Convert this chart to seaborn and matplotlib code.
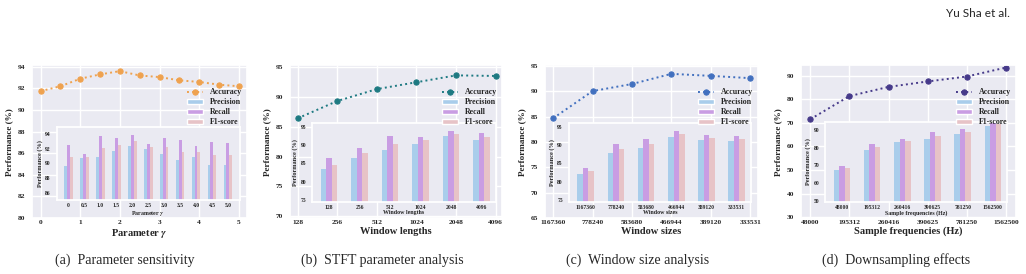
import matplotlib
matplotlib.use("Agg")
import matplotlib.pyplot as plt
from matplotlib.patches import Patch
import pandas as pd
import seaborn as sns

# (a) parameter sensitivity
gamma = [0, 0.5, 1.0, 1.5, 2.0, 2.5, 3.0, 3.5, 4.0, 4.5, 5.0]
gamma_labels = ["0", "0.5", "1.0", "1.5", "2.0", "2.5", "3.0", "3.5", "4.0", "4.5", "5.0"]
acc_a = [91.75, 92.2, 92.9, 93.3, 93.6, 93.2, 93.05, 92.75, 92.6, 92.35, 92.2]
prec_a = [89.6, 90.7, 90.9, 91.75, 92.4, 91.9, 91.3, 90.5, 90.85, 89.8, 89.8]
rec_a = [92.5, 91.25, 93.7, 93.4, 93.9, 92.6, 93.4, 93.15, 92.3, 92.95, 92.8]
f1_a = [90.8, 90.9, 92.1, 92.5, 93.1, 92.25, 92.25, 91.6, 91.6, 91.15, 91.1]

# (b) STFT window lengths
win_len = ["128", "256", "512", "1024", "2048", "4096"]
acc_b = [86.4, 89.3, 91.3, 92.45, 93.6, 93.5]
prec_b = [83.4, 86.5, 88.6, 90.2, 92.3, 91.4]
rec_b = [86.5, 89.3, 92.3, 92.2, 93.8, 93.2]
f1_b = [84.5, 87.7, 90.2, 91.25, 93.0, 92.1]

# (c) window sizes
win_size = ["1167360", "778240", "583680", "466944", "389120", "333531"]
acc_c = [84.65, 90.0, 91.4, 93.4, 93.0, 92.55]
prec_c = [82.05, 87.9, 89.1, 92.2, 91.3, 91.0]
rec_c = [83.75, 90.2, 91.7, 93.75, 92.75, 92.5]
f1_c = [82.85, 88.85, 90.3, 92.85, 91.95, 91.6]

# (d) sample frequencies
freqs = ["48000", "195312", "260416", "390625", "781250", "1562500"]
acc_d = [71.6, 81.4, 85.3, 87.6, 89.7, 93.5]
prec_d = [67.4, 78.7, 83.2, 85.1, 87.7, 92.5]
rec_d = [69.8, 82.3, 84.7, 88.9, 90.6, 94.2]
f1_d = [68.3, 80.4, 84.0, 86.6, 88.9, 93.4]

metrics = ["Precision", "Recall", "F1-score"]
bar_colors = ["#a9cdeb", "#c99de3", "#e7c3c7"]

sns.set_theme(style="darkgrid")
plt.rcParams["font.family"] = ["Liberation Serif", "DejaVu Serif"]
plt.rcParams["font.weight"] = "bold"
plt.rcParams["axes.labelweight"] = "bold"
plt.rcParams["mathtext.fontset"] = "stix"

fig = plt.figure(figsize=(10.26, 2.74), dpi=100)

panels = [
    dict(x=gamma, ticks=[0, 1, 2, 3, 4, 5], ticklabels=["0", "1", "2", "3", "4", "5"],
         cats=gamma_labels, acc=acc_a, bars=[prec_a, rec_a, f1_a],
         color="#efa24f", xlabel="Parameter $\\gamma$",
         rect=[0.031, 0.204, 0.2096, 0.558], xlim=(-0.22, 5.2), ylim=(80, 94.15),
         yticks=range(80, 95, 2), inset=[0.116, 0.118, 0.85, 0.48],
         in_xlim=(-0.73, 10.73), in_ylim=(85, 95), in_yticks=range(86, 95, 2),
         caption="(a)  Parameter sensitivity", cap_x=125),
    dict(x=list(range(6)), ticks=list(range(6)), ticklabels=win_len,
         cats=win_len, acc=acc_b, bars=[prec_b, rec_b, f1_b],
         color="#1e7a82", xlabel="Window lengths",
         rect=[0.2827, 0.204, 0.2063, 0.558], xlim=(-0.19, 5.15), ylim=(69.7, 95.3),
         yticks=range(70, 96, 5), inset=[0.105, 0.107, 0.866, 0.516],
         in_xlim=(-0.55, 5.46), in_ylim=(74.6, 96), in_yticks=range(75, 96, 5),
         caption="(b)  STFT parameter analysis", cap_x=382),
    dict(x=list(range(6)), ticks=list(range(6)), ticklabels=win_size,
         cats=win_size, acc=acc_c, bars=[prec_c, rec_c, f1_c],
         color="#4270bf", xlabel="Window sizes",
         rect=[0.531, 0.204, 0.2076, 0.558], xlim=(-0.21, 5.19), ylim=(65, 95.1),
         yticks=range(65, 96, 5), inset=[0.114, 0.107, 0.852, 0.516],
         in_xlim=(-0.55, 5.46), in_ylim=(74.6, 96), in_yticks=range(75, 96, 5),
         caption="(c)  Window size analysis", cap_x=638),
    dict(x=list(range(6)), ticks=list(range(6)), ticklabels=freqs,
         cats=freqs, acc=acc_d, bars=[prec_d, rec_d, f1_d],
         color="#463a8a", xlabel="Sample frequencies (Hz)",
         rect=[0.7807, 0.204, 0.2096, 0.558], xlim=(-0.24, 5.26), ylim=(29.6, 94.5),
         yticks=range(30, 91, 10), inset=[0.113, 0.107, 0.844, 0.523],
         in_xlim=(-0.55, 5.46), in_ylim=(49.5, 94.7), in_yticks=range(50, 91, 10),
         caption="(d)  Downsampling effects", cap_x=896),
]

for p in panels:
    ax = fig.add_axes(p["rect"])
    sns.lineplot(x=p["x"], y=p["acc"], ax=ax, color=p["color"], linestyle=":",
                 linewidth=1.4, marker="o", markersize=3.8, markeredgecolor=p["color"],
                 label="Accuracy", legend=False)
    ax.set_xlim(*p["xlim"])
    ax.set_ylim(*p["ylim"])
    ax.set_xticks(p["ticks"])
    ax.set_xticklabels(p["ticklabels"])
    ax.set_yticks(list(p["yticks"]))
    ax.tick_params(labelsize=5.3, length=0)
    ax.tick_params(axis="x", pad=1.5)
    ax.tick_params(axis="y", pad=5)
    ax.set_xlabel(p["xlabel"], fontsize=7.5, labelpad=1)
    ax.set_ylabel("Performance (%)", fontsize=6.6, labelpad=3)

    # inset bar chart
    axin = ax.inset_axes(p["inset"])
    rows = []
    for m, vals in zip(metrics, p["bars"]):
        for c, v in zip(p["cats"], vals):
            rows.append({"cat": c, "value": v, "metric": m})
    df = pd.DataFrame(rows)
    sns.barplot(data=df, x="cat", y="value", hue="metric", order=p["cats"],
                hue_order=metrics, palette=bar_colors, saturation=1, width=0.55,
                linewidth=0, ax=axin, legend=False)
    axin.grid(False)
    axin.set_xlim(*p["in_xlim"])
    axin.set_ylim(*p["in_ylim"])
    axin.set_yticks(list(p["in_yticks"]))
    axin.tick_params(labelsize=4.1, length=0)
    axin.tick_params(axis="x", pad=2)
    axin.tick_params(axis="y", pad=4.5)
    axin.set_xlabel(p["xlabel"], fontsize=4.3, labelpad=0.5)
    axin.set_ylabel("Performance (%)", fontsize=4.5, labelpad=1.5)

    handles = [ax.get_lines()[0]] + [Patch(facecolor=c) for c in bar_colors]
    ax.legend(handles, ["Accuracy"] + metrics, loc="upper right",
              bbox_to_anchor=(1.0, 0.88), frameon=False, fontsize=5.7,
              labelspacing=0.25, handlelength=2.0, handletextpad=0.9,
              borderaxespad=0.2)

    fig.text(p["cap_x"] / 1026, 0.051, p["caption"], ha="center", va="center",
             fontsize=10, fontweight="normal")

fig.text(1010 / 1026, 0.949, "Yu Sha et al.", ha="right", va="center",
         fontsize=8.5, fontweight="normal", family=["Lato", "DejaVu Sans"])

fig.savefig("out.png", dpi=100)
